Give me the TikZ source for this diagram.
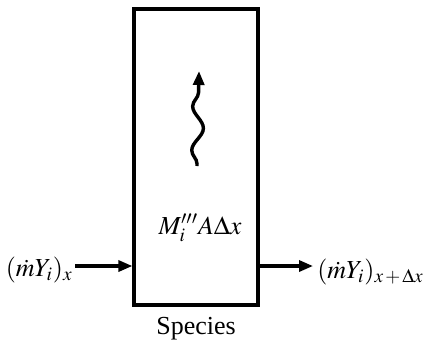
\documentclass[tikz,border=0pt]{standalone}
\usepackage{mathptmx}
\usepackage{fontspec}
\setmainfont{Liberation Serif}
\usetikzlibrary{arrows.meta, positioning, decorations.pathmorphing}

\begin{document}
\begin{tikzpicture}[
  x=0.5pt, y=-0.5pt,
  volbox/.style   = {draw, line width=1.6pt, minimum width=62pt,
                     minimum height=148pt, inner sep=0pt},
  flow/.style     = {-{Triangle[length=7pt, width=5.5pt]}, line width=1.6pt},
  wave/.style     = {-{Triangle[length=7pt, width=5.5pt]}, line width=1.7pt,
                     decorate, decoration={snake, amplitude=2.8pt,
                     segment length=22pt, pre length=1pt, post length=8pt}},
  tag/.style      = {font=\fontsize{13}{15}\selectfont, inner sep=1pt}
]

% -- control volume --
\path[use as bounding box] (0,0) rectangle (432,344);
\node[volbox] (cv) at (196,157) {};
\node[tag] (gen) at (200,228) {$M_i'''A\Delta x$};
\node[tag, below=4pt of cv] (spec) {Species};

% -- production arrow --
\coordinate (wbot) at (197,166);
\coordinate (wtop) at (199,71);
\draw[wave] (wbot) -- (wtop);

% -- in and out fluxes --
\coordinate (inL)  at (75,266);
\coordinate (outR) at (313,266);
\node[tag, left=0pt of inL, yshift=-2pt]  (fin)  {$(\dot{m}Y_i)_x$};
\node[tag, right=1pt of outR, yshift=-3pt] (fout) {$(\dot{m}Y_i)_{x\,+\,\Delta x}$};
\draw[flow] (inL) -- (inL -| cv.west);
\draw[flow] (outR -| cv.east) -- (outR);

\end{tikzpicture}
\end{document}
